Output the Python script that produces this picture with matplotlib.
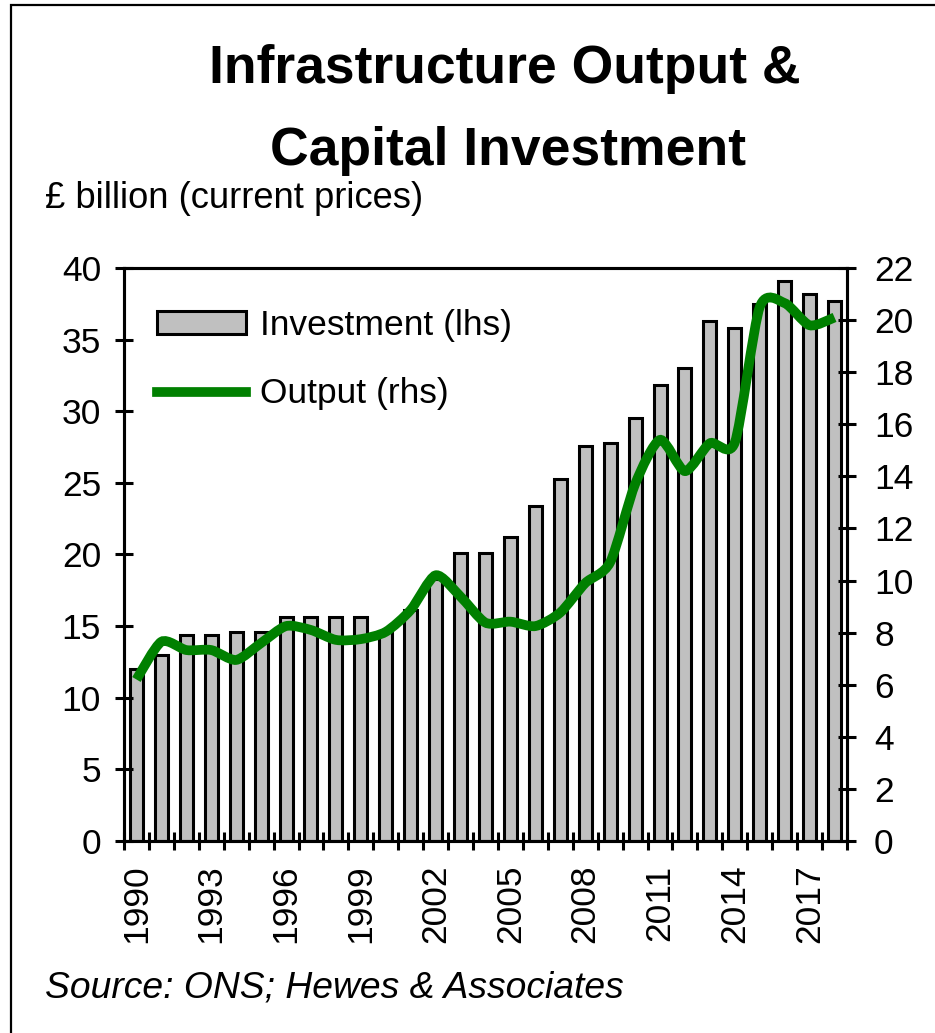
"""Infrastructure output and capital investment chart."""

import matplotlib
matplotlib.use('Agg')
import matplotlib.pyplot as plt  # noqa: E402
from matplotlib.lines import Line2D  # noqa: E402
from matplotlib.patches import PathPatch, Rectangle  # noqa: E402
from matplotlib.path import Path  # noqa: E402

# ----------------------------------------------------------------------------
# Data

years = list(range(1990, 2019))
investment = [12.0, 13.0, 14.4, 14.4, 14.6, 14.6, 15.6, 15.6, 15.6, 15.6,
              14.6, 16.1, 18.3, 20.1, 20.1, 21.2, 23.4, 25.3, 27.6, 27.8,
              29.5, 31.8, 33.0, 36.3, 35.8, 37.5, 39.1, 38.2, 37.7]
output = [6.2, 7.65, 7.33, 7.33, 6.95, 7.6, 8.25, 8.1, 7.72, 7.75,
          8.03, 8.87, 10.2, 9.38, 8.38, 8.42, 8.25, 8.77, 9.9, 10.7,
          13.7, 15.4, 14.2, 15.27, 15.3, 20.5, 20.65, 19.8, 20.1]

lhs_ticks = list(range(0, 41, 5))
rhs_ticks = list(range(0, 23, 2))
label_years = years[::3]

GREEN = '#008000'
GREY = '#C0C0C0'
FONT = 'Liberation Sans'

plt.rcParams['font.family'] = [FONT, 'DejaVu Sans']


def smooth_path(xs, ys, k=1 / 8):
    """Bezier path through the points, roughly like Excel smoothing."""
    n = len(xs)
    verts = [(xs[0], ys[0])]
    codes = [Path.MOVETO]
    for i in range(n - 1):
        x0, y0 = (xs[i - 1], ys[i - 1]) if i > 0 else (xs[i], ys[i])
        x1, y1 = xs[i], ys[i]
        x2, y2 = xs[i + 1], ys[i + 1]
        x3, y3 = (xs[i + 2], ys[i + 2]) if i + 2 < n else (x2, y2)
        verts += [(x1 + (x2 - x0) * k, y1 + (y2 - y0) * k),
                  (x2 - (x3 - x1) * k, y2 - (y3 - y1) * k),
                  (x2, y2)]
        codes += [Path.CURVE4] * 3
    return Path(verts, codes)


fig = plt.figure(figsize=(9.35, 10.33), dpi=100)
ax = fig.add_axes([0.1326, 0.1859, 0.7733, 0.5547])
ax2 = ax.twinx()

# Outer frame
fig.patches.append(Rectangle((11 / 935, -0.1), 2, 1.1 - 5 / 1033,
                             transform=fig.transFigure, fill=False,
                             edgecolor='black', linewidth=1.6))

# Bars (lhs)
pos = list(range(len(years)))
bars = ax.bar(pos, investment, width=0.52, color=GREY, edgecolor='black',
              linewidth=2.2, label='Investment (lhs)')

# Smoothed line (rhs)
ax2.add_patch(PathPatch(smooth_path(pos, output), fill=False,
                        edgecolor=GREEN, linewidth=7, capstyle='butt'))
line_proxy = Line2D([], [], color=GREEN, linewidth=7,
                    label='Output (rhs)')

# Axes formatting
ax.set_xlim(-0.5, len(years) - 0.5)
ax.set_ylim(0, 40)
ax2.set_ylim(0, 22)
ax.set_yticks(lhs_ticks)
ax2.set_yticks(rhs_ticks)

ax.set_xticks([p - 0.5 for p in pos] + [len(years) - 0.5])
ax.set_xticklabels([])
ax.set_xticks([years.index(y) for y in label_years], minor=True)
ax.set_xticklabels([str(y) for y in label_years], minor=True, rotation=90,
                   fontsize=25.5)
ax.tick_params(axis='x', which='minor', length=0, pad=17)
ax.tick_params(axis='x', which='major', direction='inout', length=13,
               width=2.2)
ax.tick_params(axis='y', direction='inout', length=13, width=2.2,
               labelsize=25.5, pad=10)
ax2.tick_params(axis='y', direction='inout', length=13, width=2.2,
                labelsize=25.5, pad=13)

for a in (ax, ax2):
    for spine in a.spines.values():
        spine.set_linewidth(2.2)

# Legend
ax2.legend(handles=[bars, line_proxy], loc='upper left',
           bbox_to_anchor=(157 / 935, 1 - 309 / 1033),
           bbox_transform=fig.transFigure, frameon=False, fontsize=25.5,
           handlelength=2.5, handleheight=0.6, handletextpad=0.4,
           labelspacing=1.0, borderpad=0, borderaxespad=0)

# Text
fig.text(505 / 935, 1 - 83 / 1033, 'Infrastructure Output &',
         ha='center', va='baseline', fontsize=38.5, fontweight='bold')
fig.text(508 / 935, 1 - 165 / 1033, 'Capital Investment',
         ha='center', va='baseline', fontsize=38.5, fontweight='bold')
fig.text(45 / 935, 1 - 208 / 1033, '£ billion (current prices)',
         ha='left', va='baseline', fontsize=26.2)
fig.text(45 / 935, 1 - 997 / 1033, 'Source: ONS; Hewes & Associates',
         ha='left', va='baseline', fontsize=26.8, fontstyle='italic')

fig.savefig('out.png', dpi=100)
